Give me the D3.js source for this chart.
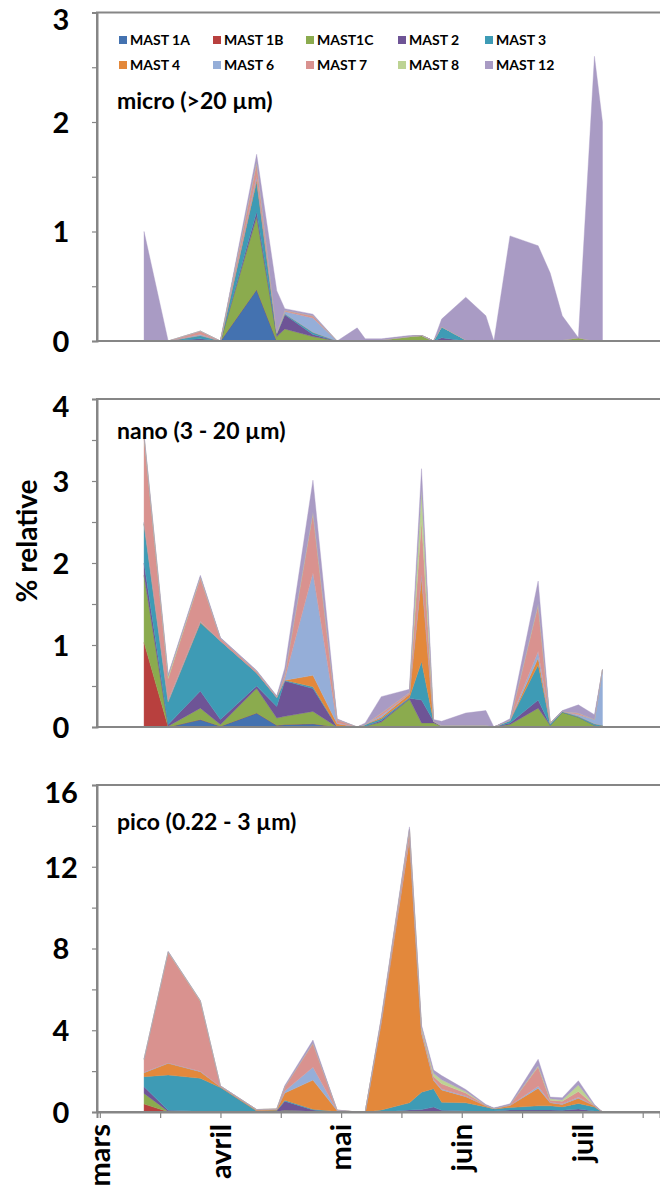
<!DOCTYPE html>
<html>
<head>
<meta charset="utf-8">
<script src="https://cdn.jsdelivr.net/npm/d3@7"></script>
<style>
body { margin: 0; background: #fff; }
text { font-family: Lato, "Open Sans", sans-serif; font-weight: bold; fill: #000; }
</style>
</head>
<body>
<svg id="chart" width="660" height="1191"></svg>
<script>
// Stacked area charts of MAST groups (% relative) for three size fractions.

var series = ["MAST 1A", "MAST 1B", "MAST1C", "MAST 2", "MAST 3", "MAST 4", "MAST 6", "MAST 7", "MAST 8", "MAST 12"];
var colors = ["#4472b0", "#b8403e", "#8bab4e", "#6e5496", "#3e9bb5", "#e3883b", "#95aed8", "#d9928f", "#bdd393", "#a99bc4"];

// sampling dates, days after 1 March
var days = [11, 17, 25, 30, 39, 44, 46, 53, 59, 64, 66, 70, 77, 80, 83, 85, 91, 96, 98, 102, 109, 112, 115, 119, 123, 125];

var monthDays = [0, 30, 60, 90, 120];
var monthLabels = ["mars", "avril", "mai", "juin", "juil"];

// one row per series (same order as `series`), one value per date
var microValues = [
  [0,0,0,0,.47,0,0,0,0,0,0,0,0,0,0,0,0,0,0,0,0,0,0,0,0,0],
  [0,0,0,0,0,0,0,0,0,0,0,0,0,0,0,0,0,0,0,0,0,0,0,0,0,0],
  [0,0,.01,0,.665,.04,.11,.04,0,0,0,.01,.04,.05,0,0,0,0,0,0,0,0,.01,.03,0,0],
  [0,0,.01,0,.045,.02,.13,.02,0,0,0,0,0,0,0,.03,0,0,0,0,0,0,0,0,0,0],
  [0,0,.03,0,.275,.01,.01,.02,0,0,0,0,0,0,0,.10,.01,0,0,0,0,0,0,0,0,0],
  [0,0,0,0,.02,0,0,0,0,0,0,0,0,0,0,0,0,0,0,0,0,0,0,0,0,0],
  [0,0,.01,0,.03,.01,.02,.13,0,0,0,0,0,0,0,0,0,0,0,0,0,0,0,0,0,0],
  [0,0,.03,0,.12,0,.01,.02,0,0,0,0,0,0,0,0,0,0,0,0,0,0,0,0,0,0],
  [0,0,0,0,.01,0,0,0,0,0,0,0,0,0,0,0,0,0,0,0,0,0,0,0,0,0],
  [1.0,0,0,0,.07,.38,.015,.015,0,.12,.02,.01,.01,0,0,.07,.39,.23,0,.96,.87,.62,.22,0,2.6,2.0]
];

var nanoValues = [
  [0,0,.09,.01,.17,.02,.03,.04,0,0,0,.01,.01,.01,0,0,0,0,0,0,.01,0,0,0,0,0],
  [1.03,0,0,0,0,0,0,0,0,0,0,0,0,0,0,0,0,0,0,0,0,0,0,0,0,0],
  [.82,.01,.14,.02,.30,.09,.10,.15,0,0,.01,.05,.33,.04,.05,.01,0,0,0,.03,.22,.02,.18,.12,.02,0],
  [.15,.02,.21,.06,.03,.14,.43,.28,0,0,0,.02,.01,.28,.02,0,0,0,0,.02,.10,0,0,0,0,0],
  [.48,.28,.83,.96,.16,.11,.01,.02,0,0,.02,.02,.01,.47,0,0,0,0,0,.03,.43,.02,.01,.01,.02,.02],
  [0,0,.01,0,0,0,0,.14,.04,0,0,.02,.04,1.03,0,0,0,0,0,0,.08,0,0,0,0,0],
  [.02,.02,.01,0,0,0,.02,1.25,.01,0,0,.02,0,.03,0,.01,.02,.02,0,0,.08,.01,0,.02,.05,.68],
  [1.03,.26,.53,.03,.02,.01,.05,.73,.04,0,0,.03,.02,.66,0,0,0,0,0,0,.57,0,0,.02,0,0],
  [.02,.03,.01,0,0,0,0,.01,0,0,0,0,0,.38,0,0,0,0,0,0,.01,0,0,0,0,0],
  [.02,.02,.02,.01,.01,.01,.08,.39,.01,0,.02,.20,.04,.25,.02,.05,.15,.18,0,.02,.28,0,.01,.10,.06,0]
];

var picoValues = [
  [.05,.01,.01,0,0,0,0,.01,0,0,0,0,0,.02,.02,0,0,0,0,0,0,0,0,.02,0,0],
  [.34,0,0,0,0,0,0,0,0,0,0,0,0,0,0,0,0,0,0,0,0,0,0,0,0,0],
  [.52,.02,0,0,0,.03,.08,.03,0,0,0,0,0,0,.02,0,0,0,0,0,0,0,0,0,0,0],
  [.33,.05,.03,.02,0,.03,.45,.06,0,0,0,0,.1,.1,.2,.08,.05,.05,.05,.1,.1,.1,.08,.13,.05,0],
  [.49,1.73,1.61,1.18,.05,.02,.05,.04,.02,0,0,.1,.35,.85,.9,.4,.4,.2,.1,.12,.2,.2,.17,.27,.2,0],
  [.19,.57,.32,.03,.05,.05,.35,1.42,.05,0,0,4.3,12.9,2.88,.4,.6,.3,.05,.02,.1,.86,.15,.12,.25,.05,0],
  [.02,.02,.02,0,0,0,.1,.63,0,0,0,0,.05,.05,.05,.05,.03,0,0,0,.1,.03,.03,.05,0,0],
  [.64,5.42,3.43,.04,.02,.02,.2,1.17,.02,0,0,.15,.4,.15,.15,.25,.15,.03,0,.03,.95,.1,.13,.28,.02,0],
  [0,.02,.02,0,0,0,0,.02,0,0,0,0,.05,.1,.15,.2,.07,0,0,0,.05,.07,.06,.32,0,0],
  [.02,.02,.02,.01,0,0,.07,.14,.01,0,0,.1,.1,.1,.16,.2,.1,.04,.03,.05,.32,.08,.11,.21,.05,0]
];

var panels = [
  {values: microValues, max: 3, major: 1, minor: 0.5, top: 12.5, bottom: 341, title: "micro (>20 µm)", titleY: 109},
  {values: nanoValues, max: 4, major: 1, minor: 0.5, top: 399, bottom: 727, title: "nano (3 - 20 µm)", titleY: 439},
  {values: picoValues, max: 16, major: 4, minor: 2, top: 785, bottom: 1112, title: "pico (0.22 - 3 µm)", titleY: 830}
];

var svg = d3.select("#chart"),
    left = 97,
    frameColor = "#868686";

var x = d3.scaleLinear().domain([-0.7, 139.3]).range([left, 660]);

panels.forEach(function(p, n) {
  var y = d3.scaleLinear().domain([0, p.max]).range([p.bottom, p.top]);

  var rows = days.map(function(d, i) {
    var o = {day: d};
    series.forEach(function(s, k) { o[s] = p.values[k][i]; });
    return o;
  });
  var layers = d3.stack().keys(series)(rows);

  var area = d3.area()
    .x(function(d) { return x(d.data.day); })
    .y0(function(d) { return y(d[0]); })
    .y1(function(d) { return y(d[1]); });

  var g = svg.append("g");

  g.selectAll(".layer")
    .data(layers)
    .enter().append("path")
      .attr("class", "layer")
      .attr("fill", function(d, i) { return colors[i]; })
      .attr("stroke", function(d, i) { return colors[i]; })
      .attr("stroke-width", 0.4)
      .attr("d", area);

  // plot frame
  g.append("rect")
    .attr("x", left)
    .attr("y", p.top)
    .attr("width", 700)
    .attr("height", p.bottom - p.top)
    .attr("fill", "none")
    .attr("stroke", frameColor)
    .attr("stroke-width", 2);

  // y axis: ticks at every minor step, labels on the major ones
  var yAxis = g.append("g")
    .attr("transform", "translate(" + left + ",0)")
    .call(d3.axisLeft(y)
      .tickValues(d3.range(0, p.max + p.minor / 2, p.minor))
      .tickSize(5)
      .tickFormat(function(v) { return v % p.major === 0 ? v : ""; }));
  yAxis.select(".domain").attr("stroke", frameColor).attr("stroke-width", 2);
  yAxis.selectAll(".tick line").attr("stroke", frameColor).attr("stroke-width", 1.2);
  yAxis.selectAll(".tick text")
    .attr("x", -36)
    .attr("dy", function(v) { return v === p.max ? "0.6em" : "0.36em"; })
    .attr("text-anchor", "middle")
    .style("font-size", "29px")
    .style("font-family", "Lato, sans-serif");

  g.append("text")
    .attr("x", 117)
    .attr("y", p.titleY)
    .style("font-size", "23px")
    .text(p.title);

  if (n === panels.length - 1) {
    var xAxis = g.append("g")
      .attr("transform", "translate(0," + p.bottom + ")")
      .call(d3.axisBottom(x).tickValues(d3.range(0, 136, 15)).tickSize(6).tickFormat(""));
    xAxis.select(".domain").attr("stroke", frameColor).attr("stroke-width", 2);
    xAxis.selectAll(".tick line").attr("stroke", frameColor).attr("stroke-width", 1.2);

    g.selectAll(".month")
      .data(monthDays)
      .enter().append("text")
        .attr("class", "month")
        .attr("transform", function(d) { return "translate(" + x(d) + "," + (p.bottom + 12) + ") rotate(-90)"; })
        .attr("dy", "0.35em")
        .attr("text-anchor", "end")
        .style("font-size", "29px")
        .text(function(d, i) { return monthLabels[i]; });
  }
});

// y title
svg.append("text")
  .attr("transform", "translate(27,541) rotate(-90)")
  .attr("dy", "0.35em")
  .attr("text-anchor", "middle")
  .style("font-size", "28px")
  .text("% relative");

// legend, two rows of five
var legend = svg.append("g").selectAll(".key")
  .data(series)
  .enter().append("g")
    .attr("class", "key")
    .attr("transform", function(d, i) {
      var cols = [119, 213, 306, 398, 485];
      return "translate(" + cols[i % 5] + "," + (i < 5 ? 40 : 65) + ")";
    });
legend.append("rect")
  .attr("x", 0).attr("y", -4)
  .attr("width", 8).attr("height", 8)
  .attr("fill", function(d, i) { return colors[i]; });
legend.append("text")
  .attr("x", 11)
  .attr("dy", "0.35em")
  .style("font-size", "14px")
  .text(function(d) { return d; });
</script>
</body>
</html>
